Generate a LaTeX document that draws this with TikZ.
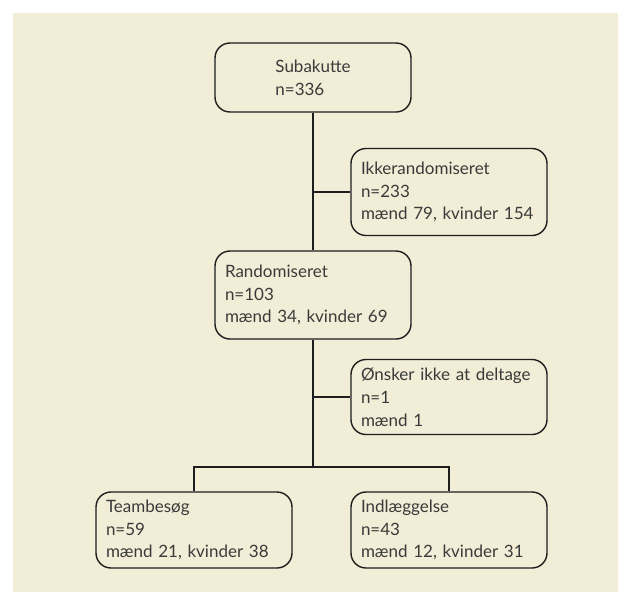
\documentclass[tikz,border=0pt]{standalone}
\usepackage{fontspec}
\setmainfont{Lato}

\begin{document}
\begin{tikzpicture}[x=1pt, y=-1pt,
    box/.style={draw=lineColour, line width=1.4pt, rounded corners=15pt, fill=bgColour,
        text=textColour, minimum width=196pt, align=left,
        font=\fontsize{17}{22.8}\selectfont},
    leftbox/.style={box, text width=176pt, inner xsep=10pt},
    link/.style={draw=lineColour, line width=1.4pt}]
    \definecolor{bgColour}{HTML}{F1EDD6}
    \definecolor{lineColour}{HTML}{1E1E1E}
    \definecolor{textColour}{HTML}{3A3A3A}

    % Background
    \useasboundingbox (0,0) rectangle (618,592);
    \fill[bgColour] (13,13) rectangle (618,592);

    % Boxes
    \node[box, minimum height=69pt] (sub) at (313,77.5) {Subakutte\\n=336};
    \node[leftbox, minimum height=87pt] (ikke) at (449,192) {Ikkerandomiseret\\n=233\\mænd 79, kvinder 154};
    \node[leftbox, minimum height=88pt] (rand) at (313,295) {Randomiseret\\n=103\\mænd 34, kvinder 69};
    \node[leftbox, minimum height=75pt] (onsker) at (449,397) {Ønsker ikke at deltage\\n=1\\mænd 1};
    \node[leftbox, minimum height=76pt] (team) at (194,530) {Teambesøg\\n=59\\mænd 21, kvinder 38};
    \node[leftbox, minimum height=76pt] (indl) at (449,530) {Indlæggelse\\n=43\\mænd 12, kvinder 31};

    % Connectors
    \coordinate (split) at (rand.south |- 0,467);
    \draw[link] (sub.south) -- (rand.north);
    \draw[link] (sub.south |- ikke.west) -- (ikke.west);
    \draw[link] (rand.south) -- (split);
    \draw[link] (rand.south |- onsker.west) -- (onsker.west);
    \draw[link] (team.north) |- (split) -| (indl.north);

\end{tikzpicture}
\end{document}
